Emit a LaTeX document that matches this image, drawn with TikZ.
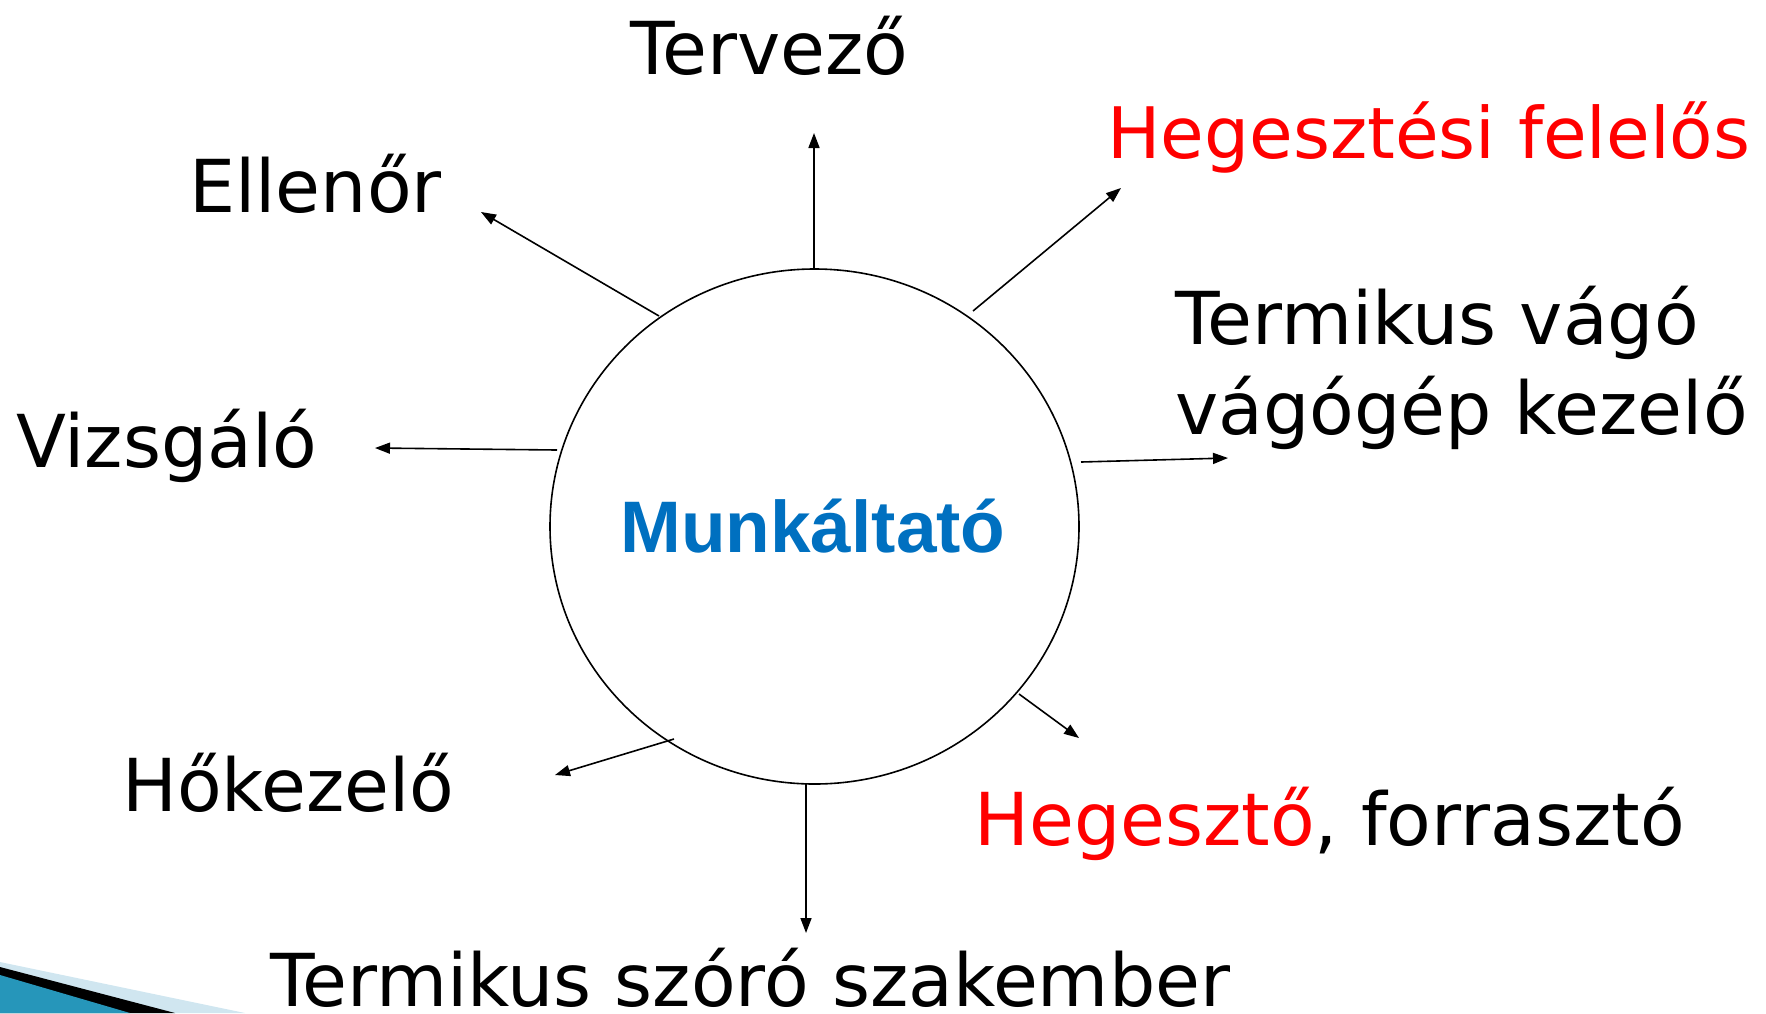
\documentclass[tikz,border=0pt]{standalone}
\usepackage{fontspec}
\usetikzlibrary{arrows.meta,shapes.geometric}
\newfontfamily\labfont{DejaVu Sans}
\newfontfamily\munkfont{Liberation Sans}
\definecolor{hred}{RGB}{255,0,0}
\definecolor{mblue}{RGB}{0,112,192}
\definecolor{swlight}{RGB}{208,230,240}
\definecolor{swteal}{RGB}{38,150,186}
\tikzset{
  lab/.style={inner sep=0pt, anchor=base west, font=\labfont\fontsize{73}{90}\selectfont},
  conn/.style={line width=1.6pt, -{Triangle[length=15pt,width=11pt]}},
  hub/.style={draw, line width=1.6pt, ellipse, minimum width=529pt, minimum height=515pt, inner sep=0pt}
}
\begin{document}
\begin{tikzpicture}[x=1pt,y=-1pt]
\useasboundingbox (0,0) rectangle (1766,1013);
% swoosh decoration
\fill[swlight] (0,962) -- (245,1013) -- (0,1013) -- cycle;
\fill[black] (0,967) -- (175,1013) -- (0,1013) -- cycle;
\fill[swteal] (0,975) -- (130,1013) -- (0,1013) -- cycle;

\node[hub] (c) at (814.5,526.5) {};
\node[inner sep=0pt, anchor=base west, text=mblue, font=\munkfont\bfseries\fontsize{73}{80}\selectfont] (m) at (620,552) {Munkáltató};

\node[lab] (terv) at (630,74) {Tervező};
\node[lab, text=hred, font=\labfont\fontsize{71}{90}\selectfont] (hf) at (1107,158) {Hegesztési felelős};
\node[lab] (ell) at (189,212) {Ellenőr};
\node[lab, align=left] (tv) at (1175,434) {Termikus vágó\\vágógép kezelő};
\node[lab] (viz) at (16,467) {Vizsgáló};
\node[lab] (hok) at (122,811) {Hőkezelő};
\node[lab] (heg) at (974,845) {\textcolor{hred}{Hegesztő}, forrasztó};
\node[lab] (tsz) at (270,1006) {Termikus szóró szakember};

% arrow ends
\coordinate (s1) at (814,269);  \coordinate (e1) at (814,133);
\coordinate (s2) at (973,311);  \coordinate (e2) at (1121,188);
\coordinate (s3) at (1081,462); \coordinate (e3) at (1228,458);
\coordinate (s4) at (1019,694); \coordinate (e4) at (1079,738);
\coordinate (s5) at (806,784);  \coordinate (e5) at (806,933);
\coordinate (s6) at (674,739);  \coordinate (e6) at (555,775);
\coordinate (s7) at (557,450);  \coordinate (e7) at (375,448);
\coordinate (s8) at (659,316);  \coordinate (e8) at (481,212);
\foreach \i in {1,...,8} \draw[conn] (s\i) -- (e\i);
\end{tikzpicture}
\end{document}
